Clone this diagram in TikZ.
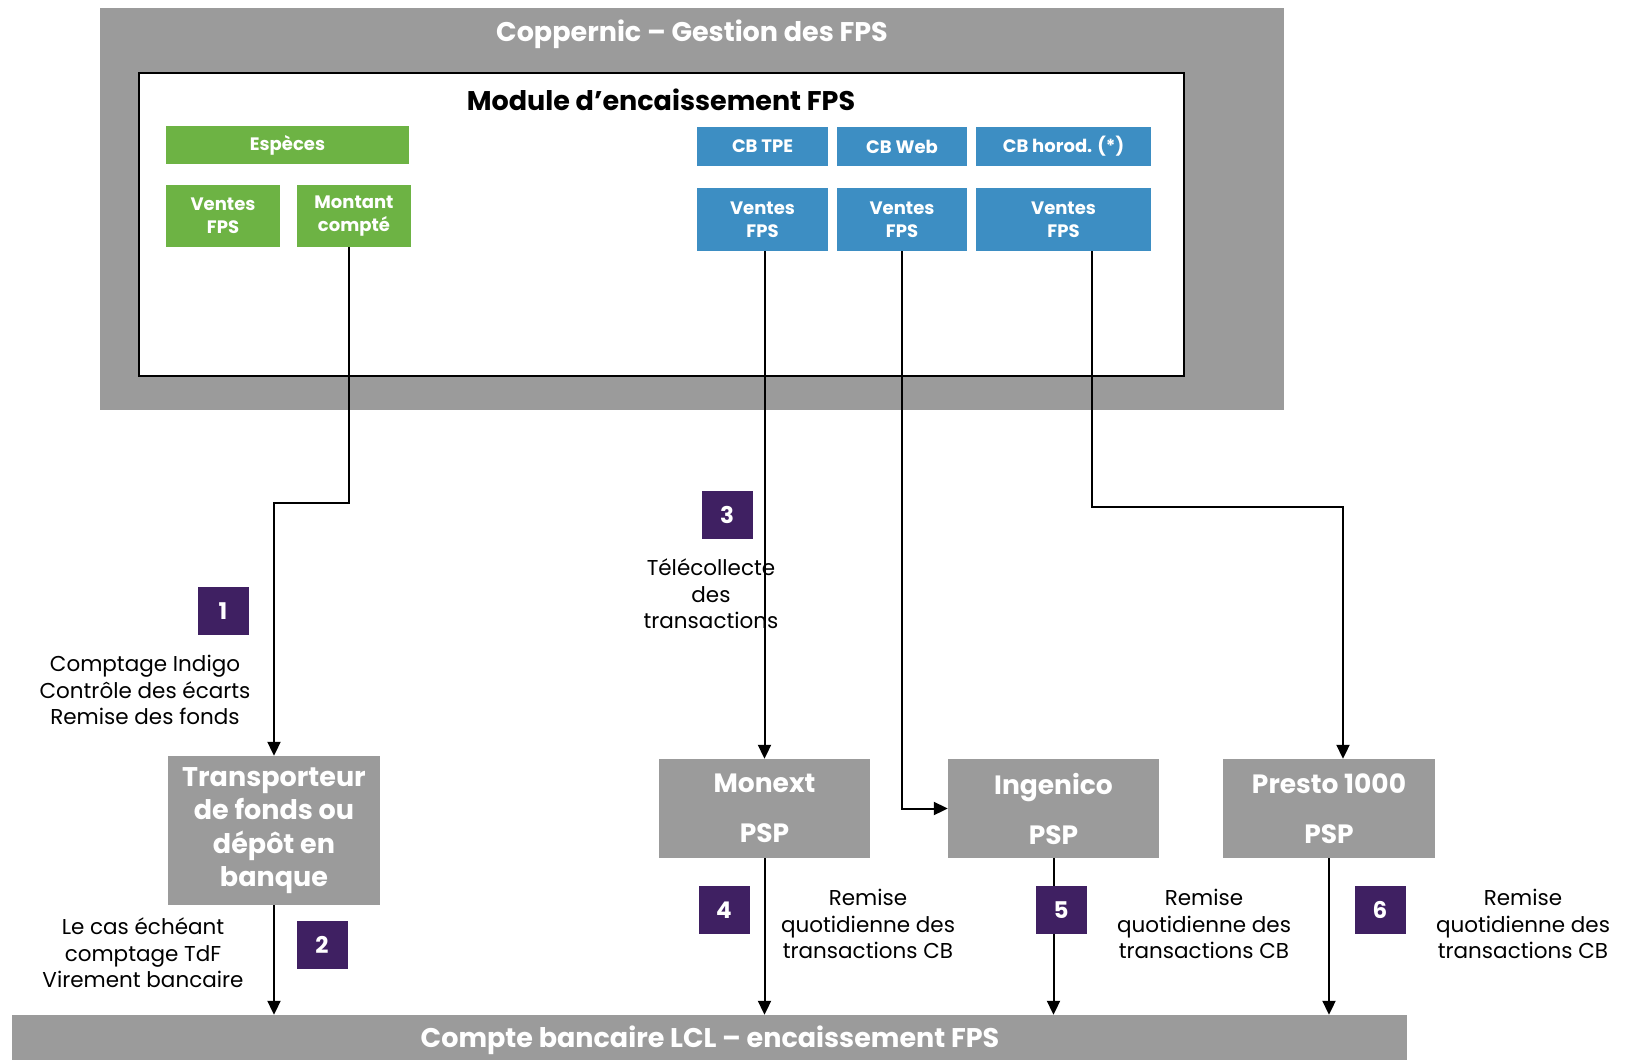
\documentclass[tikz,border=0pt]{standalone}
\usepackage{fontspec}
\setmainfont{Poppins}
\usetikzlibrary{arrows.meta}
\definecolor{cgray}{HTML}{9B9B9B}
\definecolor{cgreen}{HTML}{6DB344}
\definecolor{cblue}{HTML}{3D8EC3}
\definecolor{cpurple}{HTML}{3F2062}
\begin{document}
\begin{tikzpicture}[x=1pt,y=-1pt,
  box/.style={inner sep=0pt, align=center, text=white},
  gbox/.style={box, fill=cgreen, font=\fontsize{18}{23}\selectfont\bfseries},
  bbox/.style={box, fill=cblue, font=\fontsize{18}{23}\selectfont\bfseries},
  psp/.style={box, fill=cgray, minimum width=211pt, minimum height=99pt, font=\fontsize{26.5}{50}\selectfont\bfseries},
  badge/.style={box, fill=cpurple, minimum width=51pt, minimum height=48pt, font=\fontsize{23}{26}\selectfont\bfseries},
  note/.style={inner sep=0pt, align=center, font=\fontsize{21.5}{26.5}\selectfont},
  flow/.style={line width=2pt, -{Triangle[length=14pt,width=13pt]}}]
\useasboundingbox (0,0) rectangle (1628,1060);
\fill[white] (0,0) rectangle (1628,1060);
% outer box
\node[box, fill=cgray, minimum width=1184pt, minimum height=402pt] (cop) at (692,209) {};
\node[box, font=\fontsize{27}{30}\selectfont\bfseries] (coptitle) at (692,34) {Coppernic – Gestion des FPS};
\node[draw=black, fill=white, line width=1.5pt, inner sep=0pt, minimum width=1045pt, minimum height=303pt] (mod) at (661.5,224.5) {};
\node[inner sep=0pt, font=\fontsize{27}{30}\selectfont\bfseries] (modtitle) at (661,100) {Module d’encaissement FPS};
% green
\node[gbox, minimum width=243pt, minimum height=38pt] (esp) at (287.5,145) {Espèces};
\node[gbox, minimum width=114pt, minimum height=62pt] (vg) at (223,216) {Ventes\\FPS};
\node[gbox, minimum width=114pt, minimum height=62pt] (mc) at (354,216) {Montant\\compté};
% blue
\node[bbox, minimum width=131pt, minimum height=39pt] (cbtpe) at (762.5,146.5) {CB TPE};
\node[bbox, minimum width=130pt, minimum height=39pt] (cbweb) at (902,146.5) {CB Web};
\node[bbox, minimum width=175pt, minimum height=39pt] (cbhor) at (1063.5,146.5) {CB horod. (*)};
\node[bbox, minimum width=131pt, minimum height=63pt] (v1) at (762.5,219.5) {Ventes\\FPS};
\node[bbox, minimum width=130pt, minimum height=63pt] (v2) at (902,219.5) {Ventes\\FPS};
\node[bbox, minimum width=175pt, minimum height=63pt] (v3) at (1063.5,219.5) {Ventes\\FPS};
% lower boxes
\node[box, fill=cgray, minimum width=212pt, minimum height=149pt, font=\fontsize{27}{33.5}\selectfont\bfseries] (trans) at (274,830.5) {Transporteur\\de fonds ou\\dépôt en\\banque};
\node[psp] (monext) at (764.5,808.5) {Monext\\PSP};
\node[psp] (ingenico) at (1053.5,808.5) {Ingenico\\PSP};
\node[psp, minimum width=212pt] (presto) at (1329,808.5) {Presto 1000\\PSP};
\node[box, fill=cgray, minimum width=1395pt, minimum height=45pt] (bank) at (709.5,1037.5) {};
\node[box, font=\fontsize{27}{30}\selectfont\bfseries] (banktitle) at (710,1040) {Compte bancaire LCL – encaissement FPS};
% connectors
\coordinate (k1) at (0,503);
\draw[flow] ([xshift=-5pt]mc.south) -- ([xshift=-5pt]mc.south |- k1) -| (trans.north);
\draw[flow] (trans.south) -- (trans.south |- bank.north);
\draw[flow] (monext.north |- v1.south) -- (monext.north);
\draw[flow] (v2.south) |- (ingenico.west);
\draw[flow] ([xshift=28.5pt]v3.south) -- ++(0,256) -| ([xshift=14pt]presto.north);
\draw[flow] (monext.south) -- (monext.south |- bank.north);
\draw[flow] (ingenico.south) -- (ingenico.south |- bank.north);
\draw[flow] (presto.south) -- (presto.south |- bank.north);
% badges
\node[badge] (b1) at (223,611) {1};
\node[badge] (b2) at (322,945) {2};
\node[badge] (b3) at (727,515) {3};
\node[badge] (b4) at (724,910) {4};
\node[badge] (b5) at (1061,910) {5};
\node[badge] (b6) at (1380,910) {6};
% notes
\node[note] (n1) at (145,690) {Comptage Indigo\\Contrôle des écarts\\Remise des fonds};
\node[note] (n2) at (143,953) {Le cas échéant\\comptage TdF\\Virement bancaire};
\node[note] (n3) at (711,594) {Télécollecte\\des\\transactions};
\node[note] (n4) at (868,924) {Remise\\quotidienne des\\transactions CB};
\node[note] (n5) at (1204,924) {Remise\\quotidienne des\\transactions CB};
\node[note] (n6) at (1523,924) {Remise\\quotidienne des\\transactions CB};
\end{tikzpicture}
\end{document}
